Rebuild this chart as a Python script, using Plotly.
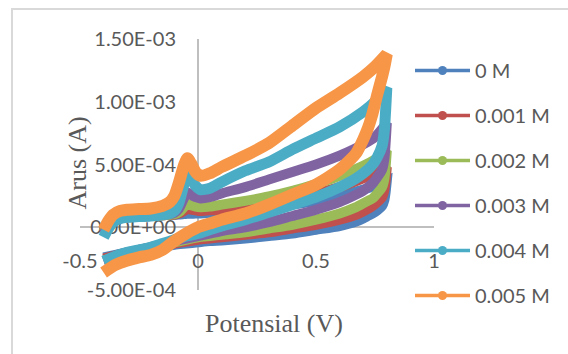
import plotly.graph_objects as go

# Potential grids (V): forward scan then reverse scan
V_FWD = [-0.40, -0.38, -0.36, -0.33, -0.30, -0.25, -0.20, -0.15, -0.12, -0.10, -0.08, -0.06, -0.045,
         -0.03, -0.01, 0.01, 0.05, 0.10, 0.20, 0.30, 0.40, 0.50, 0.60, 0.70, 0.75, 0.80]
V_REV = [0.80, 0.795, 0.79, 0.78, 0.76, 0.74, 0.72, 0.70, 0.67, 0.60, 0.50, 0.40, 0.30, 0.20, 0.10,
         0.05, 0.00, -0.05, -0.10, -0.15, -0.20, -0.25, -0.30, -0.35, -0.40]

# Currents in units of 1e-4 A
I0_FWD = [-0.3, 0.2, 0.5, 0.7, 0.8, 0.85, 0.9, 0.95, 1.0, 1.0, 1.02, 1.05, 1.07, 1.08, 1.09, 1.1, 1.15,
          1.2, 1.35, 1.55, 1.8, 2.1, 2.5, 3.0, 3.3, 3.7]
I0_REV = [3.7, 2.8, 2.2, 1.7, 1.35, 1.1, 0.9, 0.7, 0.45, 0.1, -0.2, -0.5, -0.7, -0.9, -1.05, -1.1, -1.2,
          -1.3, -1.4, -1.55, -1.7, -1.85, -2.0, -2.2, -2.4]

I1_FWD = [-0.3, 0.2, 0.5, 0.7, 0.8, 0.85, 0.9, 0.95, 1.0, 1.0, 1.1, 1.3, 1.45, 1.4, 1.35, 1.3, 1.35,
          1.4, 1.6, 1.9, 2.3, 2.7, 3.2, 3.9, 4.3, 4.8]
I1_REV = [4.8, 3.7, 3.0, 2.4, 2.0, 1.7, 1.45, 1.25, 1.0, 0.6, 0.2, -0.1, -0.4, -0.6, -0.8, -0.9, -1.0,
          -1.15, -1.3, -1.5, -1.7, -1.85, -2.0, -2.25, -2.5]

I2_FWD = [-0.4, 0.2, 0.5, 0.7, 0.8, 0.85, 0.9, 0.95, 1.0, 1.05, 1.2, 1.6, 1.85, 1.75, 1.65, 1.6, 1.65,
          1.8, 2.1, 2.45, 2.9, 3.45, 4.1, 4.9, 5.4, 6.1]
I2_REV = [6.1, 4.8, 3.9, 3.2, 2.7, 2.3, 2.1, 1.9, 1.6, 1.1, 0.6, 0.2, -0.1, -0.4, -0.6, -0.7, -0.8,
          -1.0, -1.2, -1.4, -1.6, -1.8, -2.1, -2.35, -2.65]

I3_FWD = [-0.5, 0.1, 0.5, 0.7, 0.8, 0.85, 0.9, 1.0, 1.05, 1.15, 1.5, 2.3, 2.8, 2.6, 2.4, 2.3, 2.4,
          2.7, 3.2, 3.8, 4.4, 5.0, 5.7, 6.6, 7.2, 8.3]
I3_REV = [8.3, 6.7, 5.5, 4.6, 4.0, 3.5, 3.2, 2.9, 2.6, 2.0, 1.4, 0.9, 0.4, 0.0, -0.3, -0.5, -0.7,
          -0.9, -1.1, -1.35, -1.6, -1.8, -2.1, -2.4, -2.7]

I4_FWD = [-0.8, -0.1, 0.4, 0.7, 0.8, 0.85, 0.9, 1.0, 1.1, 1.3, 2.0, 3.4, 4.5, 3.9, 3.3, 3.0, 3.1,
          3.6, 4.5, 5.2, 6.2, 7.1, 8.0, 9.2, 10.0, 11.1]
I4_REV = [11.1, 9.3, 7.8, 6.5, 5.6, 5.0, 4.6, 4.3, 3.9, 3.2, 2.4, 1.8, 1.2, 0.6, 0.1, -0.2, -0.5,
          -0.7, -1.0, -1.3, -1.6, -1.8, -2.0, -2.3, -2.7]

I5_FWD = [-0.2, 0.5, 1.0, 1.3, 1.4, 1.45, 1.5, 1.7, 2.0, 2.5, 3.6, 4.9, 5.5, 5.1, 4.4, 4.1, 4.3,
          4.8, 5.7, 6.7, 8.1, 9.5, 10.7, 12.0, 12.8, 13.8]
I5_REV = [13.8, 13.3, 12.8, 12.0, 10.6, 9.1, 7.9, 7.0, 5.9, 4.6, 3.4, 2.6, 1.8, 1.1, 0.6, 0.3, 0.0,
          -0.5, -1.1, -1.8, -2.2, -2.4, -2.65, -3.0, -3.6]

SERIES_NAMES = ["0 M", "0.001 M", "0.002 M", "0.003 M", "0.004 M", "0.005 M"]
SERIES_FWD = [I0_FWD, I1_FWD, I2_FWD, I3_FWD, I4_FWD, I5_FWD]
SERIES_REV = [I0_REV, I1_REV, I2_REV, I3_REV, I4_REV, I5_REV]
COLORS = ["#4F81BD", "#C0504D", "#9BBB59", "#8064A2", "#4BACC6", "#F79646"]
WIDTHS = [10, 10, 10, 10, 11, 12]

X_TICKS = [-0.5, 0, 0.5, 1]
X_TICKTEXT = ["-0.5", "0", "0.5", "1"]
Y_TICKS = [-5, 0, 5, 10, 15]
Y_TICKTEXT = ["-5.00E-04", "0.00E+00", "5.00E-04", "1.00E-03", "1.50E-03"]

fig = go.Figure()
for name, fw, rv, c, w in zip(SERIES_NAMES, SERIES_FWD, SERIES_REV, COLORS, WIDTHS):
    fig.add_trace(go.Scatter(x=V_FWD + V_REV, y=fw + rv, mode="lines", name=name,
                             line=dict(color=c, width=w, shape="spline", smoothing=0.6),
                             showlegend=False, hoverinfo="skip"))
for i, (name, c) in enumerate(zip(SERIES_NAMES, COLORS)):
    fig.add_trace(go.Scatter(x=[None], y=[None], mode="lines+markers", name=name,
                             legendgroup=f"g{i}",
                             line=dict(color=c, width=3.5), marker=dict(color=c, size=9)))

L, R, T, B = 80, 134, 39, 64
W, H = 568, 354
PW, PH = W - L - R, H - T - B

def px(xp):
    return (xp - L) / PW

def py(yp):
    return (H - B - yp) / PH

TICKFONT = dict(family="Lato, 'Open Sans', sans-serif", size=20, color="#595959")

fig.update_layout(
    width=W, height=H,
    margin=dict(l=L, r=R, t=T, b=B, pad=0),
    paper_bgcolor="white", plot_bgcolor="white",
    showlegend=True,
    legend=dict(x=px(410), y=py(51), xanchor="left", yanchor="top",
                font=TICKFONT, tracegroupgap=16, itemwidth=55, maxheight=400,
                bgcolor="rgba(0,0,0,0)"),
    xaxis=dict(range=[-0.5, 1], tickvals=X_TICKS, ticktext=X_TICKTEXT, showgrid=False,
               zeroline=True, zerolinecolor="#BFBFBF", zerolinewidth=1.5, showline=False,
               ticks="", tickfont=TICKFONT, anchor="free", position=0.25,
               ticklabelstandoff=20, layer="below traces"),
    yaxis=dict(range=[-5, 15], tickvals=Y_TICKS, ticktext=Y_TICKTEXT, showgrid=False,
               zeroline=True, zerolinecolor="#BFBFBF", zerolinewidth=1.5, showline=False,
               ticks="", tickfont=TICKFONT, anchor="free", position=1/3,
               ticklabelstandoff=22, layer="below traces"),
    annotations=[
        dict(text="Arus (A)", x=px(60), y=py(163), xref="paper", yref="paper", showarrow=False,
             textangle=-90, font=dict(family="Liberation Serif, serif", size=26, color="#595959")),
        dict(text="Potensial (V)", x=px(345), y=py(340), xref="paper", yref="paper", showarrow=False,
             font=dict(family="Liberation Serif, serif", size=26, color="#595959")),
    ],
    shapes=[dict(type="rect", xref="paper", yref="paper", x0=px(12), x1=px(590), y0=py(9), y1=py(370),
                 line=dict(color="#D9D9D9", width=2), layer="below")],
)

fig.write_html("out.html", config={"displayModeBar": False},
               post_script="document.body.style.margin='0';")
